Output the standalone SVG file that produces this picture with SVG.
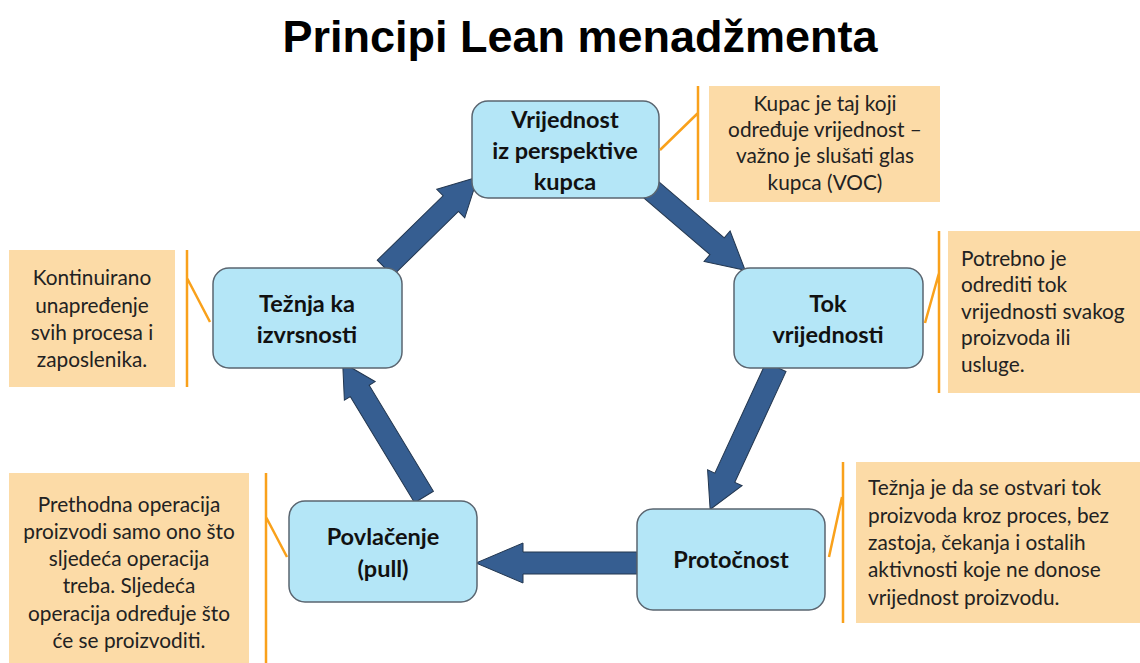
<svg xmlns="http://www.w3.org/2000/svg" width="1140" height="663" viewBox="0 0 1140 663">
<defs>
<style>
.title{font-family:"Liberation Sans",Arial,sans-serif;font-weight:bold;font-size:45px;fill:#000;text-anchor:middle}
.node rect{fill:#B4E6F7;stroke:#5a6570;stroke-width:1.5}
.node text{font-family:Lato,"Liberation Sans",sans-serif;font-weight:bold;font-size:23.5px;fill:#111;text-anchor:middle}
.box{fill:#FCDBA7}
.bracket{stroke:#F9A11B;stroke-width:2.5;fill:none}
.ct{font-family:Lato,"Liberation Sans",sans-serif;font-size:20.8px;fill:#222}
.mid{text-anchor:middle}
.arrow{fill:#365E91;stroke:#22364f;stroke-width:1}
</style>
</defs>
<rect width="1140" height="663" fill="#fff"/>
<text class="title" x="580" y="52">Principi Lean menadžmenta</text>

<g id="connectors">
<g transform="translate(385,268) rotate(-44.4)"><path class="arrow" d="M0,-11 L92,-11 L92,-20 L130,0 L92,20 L92,11 L0,11 Z"/></g>
<g transform="translate(648,187) rotate(40.6)"><path class="arrow" d="M0,-11 L91,-11 L91,-20 L128,0 L91,20 L91,11 L0,11 Z"/></g>
<g transform="translate(776,367) rotate(114.8)"><path class="arrow" d="M0,-11 L122,-11 L122,-19 L157,0 L122,19 L122,11 L0,11 Z"/></g>
<g transform="translate(637,563) rotate(180)"><path class="arrow" d="M0,-11 L114,-11 L114,-20 L161,0 L114,20 L114,11 L0,11 Z"/></g>
<g transform="translate(424,497) rotate(-121.2)"><path class="arrow" d="M0,-11 L124,-11 L124,-18 L157,0 L124,18 L124,11 L0,11 Z"/></g>
</g>

<g id="n1" class="node">
<rect x="472" y="101" width="187" height="97" rx="16"/>
<text x="565" y="128">Vrijednost</text>
<text x="565" y="159">iz perspektive</text>
<text x="565" y="190">kupca</text>
</g>
<g id="n2" class="node">
<rect x="734" y="268" width="189" height="100" rx="16"/>
<text x="828" y="312">Tok</text>
<text x="828" y="343">vrijednosti</text>
</g>
<g id="n3" class="node">
<rect x="637" y="509" width="188" height="101" rx="16"/>
<text x="731" y="568">Protočnost</text>
</g>
<g id="n4" class="node">
<rect x="289" y="501" width="188" height="101" rx="16"/>
<text x="383" y="545">Povlačenje</text>
<text x="383" y="577">(pull)</text>
</g>
<g id="n5" class="node">
<rect x="213" y="268" width="189" height="100" rx="16"/>
<text x="307" y="312">Težnja ka</text>
<text x="307" y="343">izvrsnosti</text>
</g>

<g id="c1">
<rect class="box" x="709" y="86" width="231" height="116"/>
<path class="bracket" d="M698,86 V200 M698,113 L660,150"/>
<text class="ct mid" x="825" y="111">Kupac je taj koji</text>
<text class="ct mid" x="825" y="137">određuje vrijednost –</text>
<text class="ct mid" x="825" y="163">važno je slušati glas</text>
<text class="ct mid" x="825" y="190">kupca (VOC)</text>
</g>
<g id="c2">
<rect class="box" x="948" y="231" width="192" height="162"/>
<path class="bracket" d="M939,231 V393 M939,273 L925,323"/>
<text class="ct" x="961" y="266">Potrebno je</text>
<text class="ct" x="961" y="292">odrediti tok</text>
<text class="ct" x="961" y="319">vrijednosti svakog</text>
<text class="ct" x="961" y="345">proizvoda ili</text>
<text class="ct" x="961" y="372">usluge.</text>
</g>
<g id="c3">
<rect class="box" x="856" y="462" width="284" height="161"/>
<path class="bracket" d="M843,462 V623 M842,497 L829,557"/>
<text class="ct" x="868" y="495">Težnja je da se ostvari tok</text>
<text class="ct" x="868" y="523">proizvoda kroz proces, bez</text>
<text class="ct" x="868" y="550">zastoja, čekanja i ostalih</text>
<text class="ct" x="868" y="577">aktivnosti koje ne donose</text>
<text class="ct" x="868" y="605">vrijednost proizvodu.</text>
</g>
<g id="c4">
<rect class="box" x="9" y="473" width="240" height="190"/>
<path class="bracket" d="M266,473 V663 M266,517 L287,557"/>
<text class="ct mid" x="129" y="512">Prethodna operacija</text>
<text class="ct mid" x="129" y="539">proizvodi samo ono što</text>
<text class="ct mid" x="129" y="566">sljedeća operacija</text>
<text class="ct mid" x="129" y="593">treba. Sljedeća</text>
<text class="ct mid" x="129" y="621">operacija određuje što</text>
<text class="ct mid" x="129" y="648">će se proizvoditi.</text>
</g>
<g id="c5">
<rect class="box" x="9" y="250" width="166" height="137"/>
<path class="bracket" d="M187,250 V387 M187,278 L210,322"/>
<text class="ct mid" x="92" y="285">Kontinuirano</text>
<text class="ct mid" x="92" y="313">unapređenje</text>
<text class="ct mid" x="92" y="340">svih procesa i</text>
<text class="ct mid" x="92" y="367">zaposlenika.</text>
</g>
</svg>
